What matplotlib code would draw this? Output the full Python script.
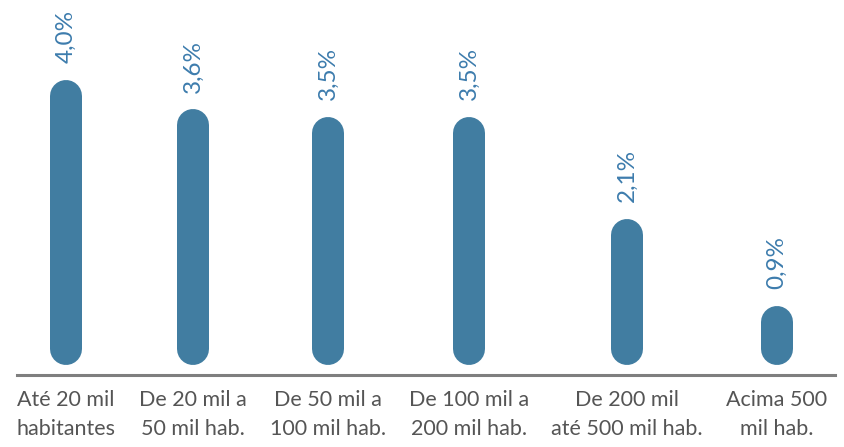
import matplotlib.pyplot as plt

plt.rcParams['font.family'] = ['Lato', 'DejaVu Sans']

# Dados
categorias = ["Até 20 mil\nhabitantes", "De 20 mil a\n50 mil hab.", "De 50 mil a\n100 mil hab.",
              "De 100 mil a\n200 mil hab.", "De 200 mil\naté 500 mil hab.", "Acima 500\nmil hab."]
valores = [4.0, 3.6, 3.5, 3.5, 2.1, 0.9]
rotulos = ["4,0%", "3,6%", "3,5%", "3,5%", "2,1%", "0,9%"]

# posições das categorias (espaçamento do original)
xpos = [0, 0.934, 1.926, 2.963, 4.125, 5.228]

cor_barra = '#417da1'
cor_texto = '#3d7cad'

fig = plt.figure(figsize=(8.44, 4.47), dpi=100)
ax = fig.add_axes([17 / 844, 72 / 447, 818 / 844, 375 / 447])

lw_pt = 32 * 72 / 100          # largura da barra em pontos (32 px)
raio = 16 / 72.9               # raio do arredondamento em unidades de dados
base = 0.09

for x, v, r in zip(xpos, valores, rotulos):
    ax.plot([x, x], [base + raio, v - raio], color=cor_barra, lw=lw_pt,
            solid_capstyle='round')
    ax.annotate(r, (x, v), xytext=(0, 12), textcoords='offset points',
                rotation=90, ha='center', va='bottom', fontsize=17.5, color=cor_texto)

ax.set_xlim(-0.36, 5.654)
ax.set_ylim(-0.047, 5.1)
ax.set_xticks(xpos)
ax.set_xticklabels(categorias, fontsize=15.5, color='#555555', linespacing=1.55)
ax.tick_params(axis='x', length=0, pad=11)
ax.set_yticks([])
for s in ['top', 'left', 'right']:
    ax.spines[s].set_visible(False)
ax.spines['bottom'].set_color('#7f7f7f')
ax.spines['bottom'].set_linewidth(2.2)

plt.savefig('out.png', dpi=100)
